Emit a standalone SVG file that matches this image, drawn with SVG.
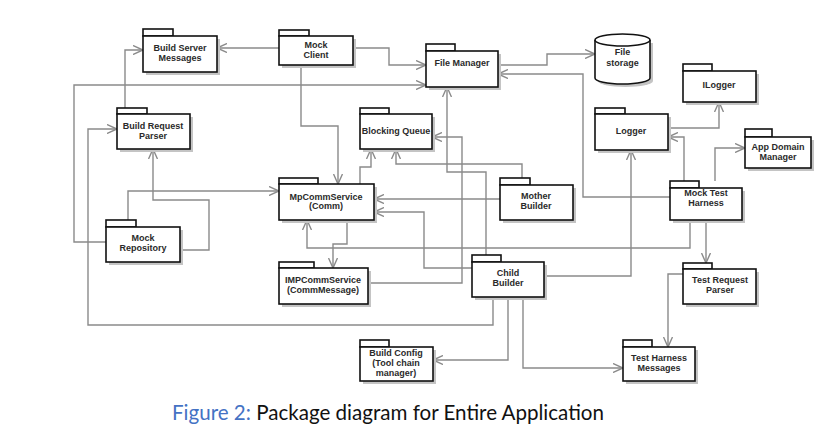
<svg xmlns="http://www.w3.org/2000/svg" width="829" height="442" viewBox="0 0 829 442">
<style>
.sh{fill:#c4c4c4;stroke:none}
.bx{fill:#fff;stroke:#111;stroke-width:1.6}
.lb{font-family:"Liberation Sans",Arial,sans-serif;font-size:9px;font-weight:bold;fill:#2a2a2a;text-anchor:middle}
.cn{fill:none;stroke:#8a8a8a;stroke-width:1.4;marker-end:url(#arr)}
.cap{font-family:Lato,"Open Sans","Liberation Sans",sans-serif;font-size:21px}
</style>
<defs>
<marker id="arr" viewBox="0 0 10 10" refX="10" refY="5" markerWidth="10" markerHeight="10" markerUnits="userSpaceOnUse" orient="auto">
<path d="M0,0.5 L10,5 L0,9.5" fill="none" stroke="#8a8a8a" stroke-width="1.4"/>
</marker>
</defs>
<rect width="829" height="442" fill="#fff"/>

<g id="connectors">
<path class="cn" d="M279,48 H217"/>
<path class="cn" d="M125,108 V50 H143"/>
<path class="cn" d="M353,48 H389 V65 H426"/>
<path class="cn" d="M106,242 H74 V85 H426"/>
<path class="cn" d="M301,65 V126 H338 V184"/>
<path class="cn" d="M360,184 V167 H371 V149"/>
<path class="cn" d="M522,178 V164 H396 V149"/>
<path class="cn" d="M368,283 H462 V137 H432"/>
<path class="cn" d="M486,255 V172 H447 V87"/>
<path class="cn" d="M500,199 H374"/>
<path class="cn" d="M472,268 H424 V212 H374"/>
<path class="cn" d="M690,220 V248 H307 V220"/>
<path class="cn" d="M347,220 V244 H333 V268"/>
<path class="cn" d="M128,220 V191 H279"/>
<path class="cn" d="M180,250 H209 V200 H153 V149"/>
<path class="cn" d="M493,297 V325 H88 V129 H117"/>
<path class="cn" d="M508,297 V360 H433"/>
<path class="cn" d="M523,297 V368 H623"/>
<path class="cn" d="M544,276 H631 V150"/>
<path class="cn" d="M498,65 H547 V54 H595"/>
<path class="cn" d="M670,197 H583 V74 H498"/>
<path class="cn" d="M684,181 V137 H668"/>
<path class="cn" d="M668,128 H719 V102"/>
<path class="cn" d="M715,181 V148 H745"/>
<path class="cn" d="M706,220 V263"/>
<path class="cn" d="M683,274 H668 V347"/>
</g>

<g id="build-server-messages">
<rect class="sh" x="146" y="39" width="74" height="36"/>
<rect class="bx" x="143" y="29" width="30" height="7"/>
<rect class="bx" x="143" y="36" width="74" height="36"/>
<text class="lb" x="180" y="50.5">Build Server</text>
<text class="lb" x="180" y="60.5">Messages</text>
</g>

<g id="mock-client">
<rect class="sh" x="282" y="39" width="74" height="29"/>
<rect class="bx" x="279" y="30" width="30" height="6"/>
<rect class="bx" x="279" y="36" width="74" height="29"/>
<text class="lb" x="316" y="48">Mock</text>
<text class="lb" x="316" y="57.5">Client</text>
</g>

<g id="file-manager">
<rect class="sh" x="429" y="54" width="72" height="36"/>
<rect class="bx" x="426" y="44" width="29" height="7"/>
<rect class="bx" x="426" y="51" width="72" height="36"/>
<text class="lb" x="462" y="66">File Manager</text>
</g>

<g id="file-storage">
<path d="M598,43 V81 A27.5,6 0 0 0 653,81 V43 Z" class="sh"/>
<path d="M595,40 V78 A27.5,6 0 0 0 650,78 V40" class="bx"/>
<ellipse cx="622.5" cy="40" rx="27.5" ry="6" class="bx"/>
<text class="lb" x="622.5" y="55">File</text>
<text class="lb" x="622.5" y="66">storage</text>
</g>

<g id="ilogger">
<rect class="sh" x="686" y="74" width="73" height="31"/>
<rect class="bx" x="683" y="64" width="29" height="7"/>
<rect class="bx" x="683" y="71" width="73" height="31"/>
<text class="lb" x="719" y="88">ILogger</text>
</g>

<g id="logger">
<rect class="sh" x="598" y="117" width="73" height="36"/>
<rect class="bx" x="595" y="108" width="30" height="6"/>
<rect class="bx" x="595" y="114" width="73" height="36"/>
<text class="lb" x="631" y="134">Logger</text>
</g>

<g id="app-domain-manager">
<rect class="sh" x="748" y="140" width="66" height="31"/>
<rect class="bx" x="745" y="129" width="27" height="8"/>
<rect class="bx" x="745" y="137" width="66" height="31"/>
<text class="lb" x="778" y="150">App Domain</text>
<text class="lb" x="778" y="160">Manager</text>
</g>

<g id="mock-test-harness">
<rect class="sh" x="673" y="191" width="72" height="32"/>
<rect class="bx" x="670" y="181" width="29" height="7"/>
<rect class="bx" x="670" y="188" width="72" height="32"/>
<text class="lb" x="706" y="196">Mock Test</text>
<text class="lb" x="706" y="206">Harness</text>
</g>

<g id="build-request-parser">
<rect class="sh" x="120" y="117" width="73" height="35"/>
<rect class="bx" x="117" y="108" width="30" height="6"/>
<rect class="bx" x="117" y="114" width="73" height="35"/>
<text class="lb" x="153" y="129">Build Request</text>
<text class="lb" x="153" y="139">Parser</text>
</g>

<g id="blocking-queue">
<rect class="sh" x="363" y="117" width="72" height="35"/>
<rect class="bx" x="360" y="108" width="29" height="6"/>
<rect class="bx" x="360" y="114" width="72" height="35"/>
<text class="lb" x="396" y="134">Blocking Queue</text>
</g>

<g id="mpcommservice">
<rect class="sh" x="282" y="187" width="95" height="36"/>
<rect class="bx" x="279" y="178" width="39" height="6"/>
<rect class="bx" x="279" y="184" width="95" height="36"/>
<text class="lb" x="326" y="200">MpCommService</text>
<text class="lb" x="326" y="209">(Comm)</text>
</g>

<g id="mother-builder">
<rect class="sh" x="503" y="188" width="73" height="35"/>
<rect class="bx" x="500" y="178" width="30" height="7"/>
<rect class="bx" x="500" y="185" width="73" height="35"/>
<text class="lb" x="536" y="199">Mother</text>
<text class="lb" x="536" y="209">Builder</text>
</g>

<g id="mock-repository">
<rect class="sh" x="109" y="230" width="74" height="35"/>
<rect class="bx" x="106" y="220" width="30" height="7"/>
<rect class="bx" x="106" y="227" width="74" height="35"/>
<text class="lb" x="143" y="241">Mock</text>
<text class="lb" x="143" y="251">Repository</text>
</g>

<g id="impcommservice">
<rect class="sh" x="282" y="271" width="89" height="36"/>
<rect class="bx" x="279" y="262" width="35" height="6"/>
<rect class="bx" x="279" y="268" width="89" height="36"/>
<text class="lb" x="323" y="283">IMPCommService</text>
<text class="lb" x="323" y="293">(CommMessage)</text>
</g>

<g id="child-builder">
<rect class="sh" x="475" y="265" width="72" height="35"/>
<rect class="bx" x="472" y="255" width="29" height="7"/>
<rect class="bx" x="472" y="262" width="72" height="35"/>
<text class="lb" x="508" y="276">Child</text>
<text class="lb" x="508" y="286">Builder</text>
</g>

<g id="test-request-parser">
<rect class="sh" x="686" y="272" width="73" height="35"/>
<rect class="bx" x="683" y="263" width="29" height="6"/>
<rect class="bx" x="683" y="269" width="73" height="35"/>
<text class="lb" x="720" y="283">Test Request</text>
<text class="lb" x="720" y="293">Parser</text>
</g>

<g id="build-config">
<rect class="sh" x="363" y="350" width="73" height="34"/>
<rect class="bx" x="360" y="340" width="29" height="7"/>
<rect class="bx" x="360" y="347" width="73" height="34"/>
<text class="lb" x="396" y="356">Build Config</text>
<text class="lb" x="396" y="366">(Tool chain</text>
<text class="lb" x="396" y="376">manager)</text>
</g>

<g id="test-harness-messages">
<rect class="sh" x="626" y="350" width="72" height="34"/>
<rect class="bx" x="623" y="340" width="29" height="7"/>
<rect class="bx" x="623" y="347" width="72" height="34"/>
<text class="lb" x="659" y="361">Test Harness</text>
<text class="lb" x="659" y="371">Messages</text>
</g>

<text class="cap" x="172" y="420" textLength="432" lengthAdjust="spacingAndGlyphs"><tspan fill="#4472c4">Figure 2:</tspan><tspan fill="#111">  Package diagram for Entire Application</tspan></text>
</svg>
